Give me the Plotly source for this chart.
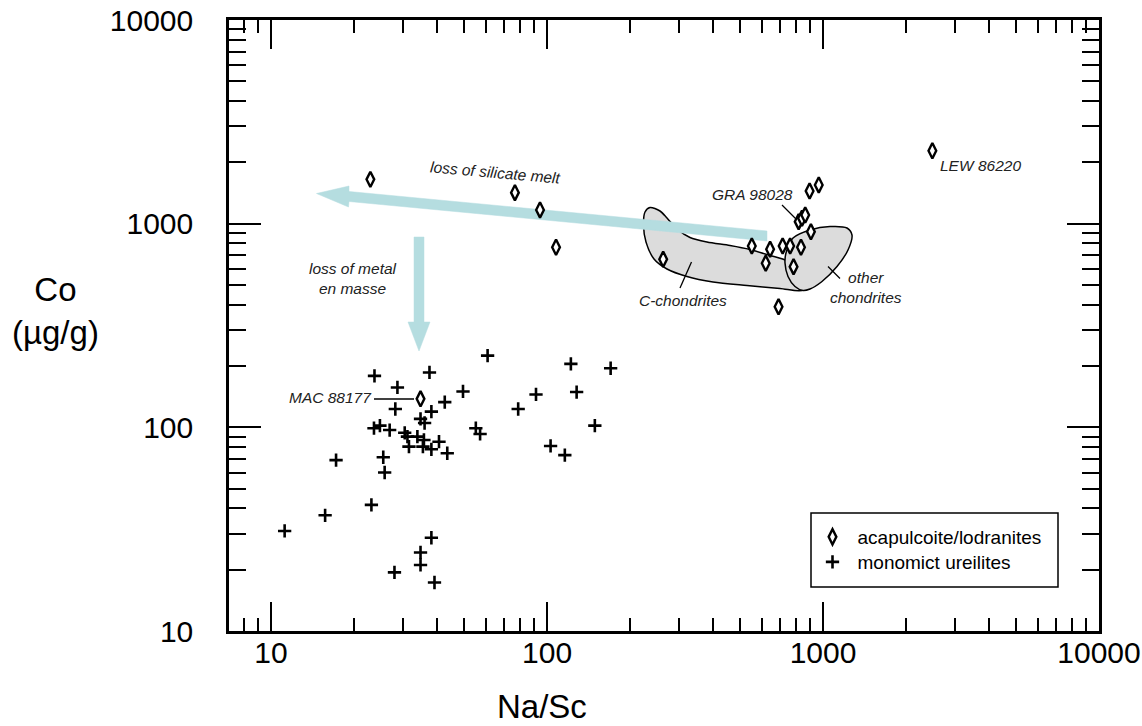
import plotly.graph_objects as go

# ---- data: Na/Sc ratio vs Co (µg/g) ----
# acapulcoite/lodranites
aca_nasc = [22.9, 76.5, 94.3, 107.8, 2490, 34.8, 263.5, 552, 620, 643, 714, 760,
            832, 782, 690, 904, 894, 965, 816, 839, 862]
aca_co = [1650, 1420, 1168, 766, 2280, 138, 669, 777, 639, 749, 777, 777,
          766, 615, 391, 913, 1447, 1549, 1023, 1063, 1103]

# monomict ureilites
ure_nasc = [23.7, 37.5, 28.7, 49.6, 28.2, 42.6, 38.1, 34.8, 36.0, 23.6, 24.8, 26.9,
            30.5, 31.2, 33.9, 35.8, 40.6, 31.6, 35.5, 38.1, 43.5, 17.2, 25.5, 25.8,
            23.1, 15.7, 11.2, 38.1, 34.8, 34.8, 28.0, 39.1, 55.2, 57.2, 60.9, 122,
            170, 91.2, 128, 78.6, 149, 103, 116]
ure_co = [179, 186, 157, 150, 123, 133, 119.5, 110, 105, 99, 102, 97,
          94, 90, 90, 86.7, 85, 80.4, 80.4, 78, 74.6, 69, 71.3, 60,
          41.6, 37, 31, 28.7, 24.3, 21.1, 19.4, 17.3, 99, 92.8, 225, 205,
          195, 145, 149, 123, 102, 81, 73]

major_vals = [10, 100, 1000, 10000]
major_text = ["10", "100", "1000", "10000"]
x_minor = [8, 9] + [m * 10 ** k for k in (1, 2, 3) for m in range(2, 10)]
y_minor = [m * 10 ** k for k in (1, 2, 3) for m in range(2, 10)]

FONT = "Liberation Sans, Arial, Helvetica, sans-serif"
ARROW = "#b5dde0"
REGION = "#dcdcdc"

# plot area in page pixels
L, R, T, B = 229, 1099, 20, 631
W, H = 1142, 726


def px_to_paper(px, py):
    return (px - L) / (R - L), (B - py) / (B - T)


fig = go.Figure()

# ---- decoration layer (drawn on a pixel-unit base axis, beneath the data) ----
c_chondrites = [(650, 207.5), (660, 211), (667, 218), (677, 229), (690, 237.5),
                (707, 242), (730, 245.5), (750, 249.5), (770, 255.5), (787, 261),
                (797, 272), (803, 290), (780, 288.5), (747, 285.5), (713, 282),
                (687, 276.5), (667, 269), (654, 259), (646, 242), (643.5, 225),
                (645, 212), (650, 207.5)]
other_chondrites = [(786, 253), (793, 238), (810, 230), (830, 226.5), (847, 228),
                    (852, 235), (848, 250), (837, 266.5), (822, 281.5), (810, 289),
                    (803, 290.5), (795, 286.5), (788, 276.5), (785, 263), (786, 253)]
for outline in (c_chondrites, other_chondrites):
    fig.add_trace(go.Scatter(
        x=[p[0] for p in outline], y=[p[1] for p in outline],
        xaxis="x", yaxis="y", mode="lines", fill="toself", fillcolor=REGION,
        line=dict(color="black", width=1.5, shape="spline", smoothing=0.8),
        showlegend=False, hoverinfo="skip"))

silicate_arrow = [(767, 231), (349, 191.5), (349, 186), (316.5, 193.5),
                  (348.5, 207), (349, 201.5), (767, 241), (767, 231)]
metal_arrow = [(414, 237), (424, 237), (424, 322), (430, 322), (419, 351),
               (408, 322), (414, 322), (414, 237)]
for arrow in (silicate_arrow, metal_arrow):
    fig.add_trace(go.Scatter(
        x=[p[0] for p in arrow], y=[p[1] for p in arrow],
        xaxis="x", yaxis="y", mode="lines", fill="toself", fillcolor=ARROW,
        line=dict(color=ARROW, width=0.5), showlegend=False, hoverinfo="skip"))

leaders = [((374, 399), (414, 399)),     # MAC 88177
           ((782, 205), (796, 219)),     # GRA 98028
           ((680, 288), (691.5, 262)),   # C-chondrites
           ((828, 266.5), (840, 278.5))] # other chondrites
lx, ly = [], []
for (a, b) in leaders:
    lx += [a[0], b[0], None]
    ly += [a[1], b[1], None]
fig.add_trace(go.Scatter(x=lx, y=ly, xaxis="x", yaxis="y", mode="lines",
                         line=dict(color="black", width=1.3),
                         showlegend=False, hoverinfo="skip"))

# ---- data layer (log axes overlaid on top) ----
fig.add_trace(go.Scatter(
    x=aca_nasc, y=aca_co, xaxis="x2", yaxis="y2", mode="markers",
    name="acapulcoite/lodranites", legend="legend",
    marker=dict(symbol="diamond-tall", size=11, color="white",
                line=dict(color="black", width=2.4))))
fig.add_trace(go.Scatter(
    x=ure_nasc, y=ure_co, xaxis="x2", yaxis="y2", mode="markers",
    name="monomict ureilites", legend="legend2",
    marker=dict(symbol="cross-thin-open", size=9.5, color="black",
                line=dict(color="black", width=2.6))))


# ---- text labels (pixel positions on the base axis) ----
def label(text, x, y, size=15.5, angle=0, xanchor="center"):
    fig.add_annotation(x=x, y=y, xref="x", yref="y", text=text, showarrow=False,
                       textangle=angle, xanchor=xanchor, yanchor="middle",
                       font=dict(family=FONT, size=size, color="#222222", style="italic"))


label("loss of silicate melt", 495, 172.5, angle=5)
label("loss of metal<br>en masse", 353, 278)
label("MAC 88177", 330, 397.5)
label("GRA 98028", 752.5, 194)
label("LEW 86220", 938, 165, xanchor="left")
label("C-chondrites", 683, 300)
label("other<br>chondrites", 866, 287)

# axis titles (paper coordinates, outside the plot area)
tx, ty = px_to_paper(55, 311)
fig.add_annotation(x=tx, y=ty, xref="paper", yref="paper", text="Co<br>(µg/g)",
                   xanchor="center", yanchor="middle", showarrow=False,
                   font=dict(family=FONT, size=33, color="black"))
tx, ty = px_to_paper(542, 706)
fig.add_annotation(x=tx, y=ty, xref="paper", yref="paper", text="Na/Sc",
                   xanchor="center", yanchor="middle", showarrow=False,
                   font=dict(family=FONT, size=33, color="black"))

# legend frame
fig.add_shape(type="rect", xref="x", yref="y", x0=811, x1=1058, y0=513, y1=587,
              line=dict(color="black", width=1.5), fillcolor="rgba(0,0,0,0)")

axis_common = dict(
    type="log", showgrid=False, zeroline=False, automargin=False,
    showline=True, linecolor="black", linewidth=2.5, mirror="ticks",
    ticks="inside", tickcolor="black", tickwidth=2,
    tickmode="array", tickvals=major_vals, ticktext=major_text,
    tickfont=dict(family=FONT, size=30, color="black"),
)

legend_common = dict(xanchor="left", yanchor="top", bgcolor="rgba(0,0,0,0)",
                     borderwidth=0, itemwidth=40,
                     font=dict(family=FONT, size=19, color="black"))
lg1x, lg1y = px_to_paper(807.5, 518)
lg2x, lg2y = px_to_paper(807.5, 543)

fig.update_layout(
    width=W, height=H,
    margin=dict(l=L, r=W - R, t=T, b=H - B, pad=0, autoexpand=False),
    paper_bgcolor="white", plot_bgcolor="white",
    xaxis=dict(range=[L, R], visible=False, fixedrange=True, automargin=False),
    yaxis=dict(range=[B, T], visible=False, fixedrange=True, automargin=False),
    xaxis2=dict(overlaying="x", anchor="y2", side="bottom",
                range=[0.8476, 4], ticklen=29, ticklabelstandoff=-7,
                minor=dict(tickmode="array", tickvals=x_minor, ticks="inside",
                           ticklen=13, tickwidth=2, tickcolor="black"),
                **axis_common),
    yaxis2=dict(overlaying="y", anchor="x2", side="left",
                range=[1, 4], ticklen=32, ticklabelstandoff=27,
                minor=dict(tickmode="array", tickvals=y_minor, ticks="inside",
                           ticklen=17, tickwidth=2, tickcolor="black"),
                **axis_common),
    showlegend=True,
    legend=dict(x=lg1x, y=lg1y, **legend_common),
    legend2=dict(x=lg2x, y=lg2y, **legend_common),
)

fig.write_html("out.html")
